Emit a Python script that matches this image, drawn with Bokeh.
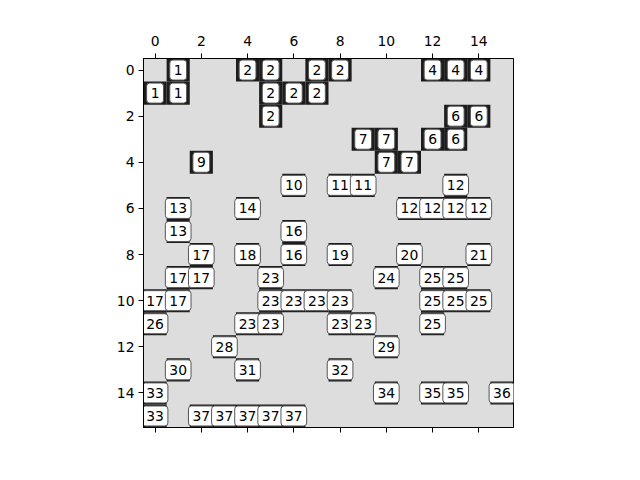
from bokeh.plotting import figure
from bokeh.models import Range1d, LinearAxis, FixedTicker, ColumnDataSource
from bokeh.core.properties import value
from bokeh.embed import file_html
from bokeh.resources import INLINE

# labelled cells: row, column, label
rows = [0, 0, 0, 0, 0, 0, 0, 0,
        1, 1, 1, 1, 1,
        2, 2, 2,
        3, 3, 3, 3,
        4, 4, 4,
        5, 5, 5, 5,
        6, 6, 6, 6, 6, 6,
        7, 7,
        8, 8, 8, 8, 8, 8,
        9, 9, 9, 9, 9, 9,
        10, 10, 10, 10, 10, 10, 10, 10, 10,
        11, 11, 11, 11, 11, 11,
        12, 12,
        13, 13, 13,
        14, 14, 14, 14, 14,
        15, 15, 15, 15, 15, 15]
cols = [1, 4, 5, 7, 8, 12, 13, 14,
        0, 1, 5, 6, 7,
        5, 13, 14,
        9, 10, 12, 13,
        2, 10, 11,
        6, 8, 9, 13,
        1, 4, 11, 12, 13, 14,
        1, 6,
        2, 4, 6, 8, 11, 14,
        1, 2, 5, 10, 12, 13,
        0, 1, 5, 6, 7, 8, 12, 13, 14,
        0, 4, 5, 8, 9, 12,
        3, 10,
        1, 4, 8,
        0, 10, 12, 13, 15,
        0, 2, 3, 4, 5, 6]
labels = [1, 2, 2, 2, 2, 4, 4, 4,
          1, 1, 2, 2, 2,
          2, 6, 6,
          7, 7, 6, 6,
          9, 7, 7,
          10, 11, 11, 12,
          13, 14, 12, 12, 12, 12,
          13, 16,
          17, 18, 16, 19, 20, 21,
          17, 17, 23, 24, 25, 25,
          17, 17, 23, 23, 23, 23, 25, 25, 25,
          26, 23, 23, 23, 23, 25,
          28, 29,
          30, 31, 32,
          33, 34, 35, 35, 36,
          33, 37, 37, 37, 37, 37]
n_rows = 16
n_cols = 16
tick_values = [0, 2, 4, 6, 8, 10, 12, 14]

src = ColumnDataSource(dict(x=cols, y=rows, t=[str(v) for v in labels]))

p = figure(frame_width=370, frame_height=369,
           min_border_left=143, min_border_right=127,
           min_border_top=58, min_border_bottom=53,
           x_range=Range1d(-0.5, n_cols - 0.5), y_range=Range1d(n_rows - 0.5, -0.5),
           x_axis_location="above", toolbar_location=None,
           output_backend="svg")

p.background_fill_color = "#dddddd"
p.border_fill_color = "white"
p.grid.visible = False
p.outline_line_color = "black"
p.outline_line_width = 1

p.rect(x="x", y="y", width=1, height=1, source=src,
       fill_color="#1c1c1c", line_color=None)

p.text(x="x", y="y", text="t", source=src,
       text_align="center", text_baseline="middle",
       text_font=value("DejaVu Sans"), text_font_size="13.9px",
       text_color="black",
       background_fill_color="white",
       border_line_color="#555555", border_line_width=1,
       border_radius=3, padding=dict(left=4, right=4, top=5, bottom=5))

def style(ax, standoff=4, show_labels=True):
    ax.ticker = FixedTicker(ticks=tick_values)
    ax.minor_tick_line_color = None
    ax.major_tick_in = 0
    ax.major_tick_out = 5
    ax.major_tick_line_color = "black"
    ax.axis_line_color = "black"
    ax.major_label_text_font = "DejaVu Sans"
    ax.major_label_text_font_size = "13.9px"
    ax.major_label_text_color = "black"
    ax.major_label_standoff = standoff
    if not show_labels:
        ax.major_label_text_color = None

style(p.xaxis[0], standoff=8)
style(p.yaxis[0], standoff=4)
bottom = LinearAxis()
style(bottom, show_labels=False)
p.add_layout(bottom, "below")

open("out.html", "w").write(file_html(p, INLINE))
